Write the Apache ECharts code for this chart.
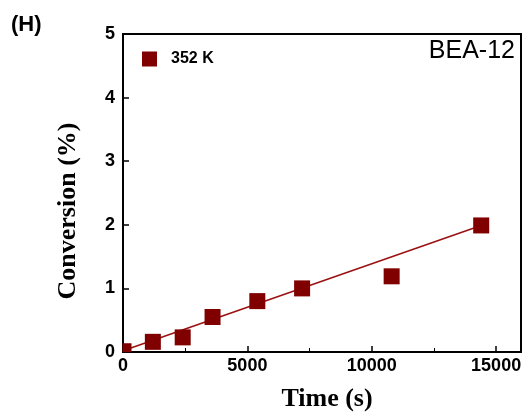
<!DOCTYPE html>
<html><head><meta charset="utf-8">
<script src="https://cdn.jsdelivr.net/npm/echarts@6/dist/echarts.min.js"></script>
<style>html,body{margin:0;padding:0;background:#fff}#c{width:526px;height:417px}</style>
</head><body><div id="c"></div>
<script>
const timeS = [0, 1200, 2400, 3600, 5400, 7200, 10800, 14400];
const conversion = [0.02, 0.16, 0.23, 0.55, 0.80, 1.00, 1.19, 1.99];
const fitX = [0, 14400];
const fitY = [0.02, 1.99];
const xTicks = [0, 5000, 10000, 15000];
const yTicks = [0, 1, 2, 3, 4, 5];

const chart = echarts.init(document.getElementById('c'));
const axisLine = {show: true, lineStyle: {color: '#000', width: 2}};
chart.setOption({
  animation: false,
  grid: {left: 123, top: 34, right: 5, bottom: 63, show: true, borderColor: '#000', borderWidth: 2, backgroundColor: 'transparent'},
  title: [
    {text: '(H)', left: 6, top: 9, textStyle: {fontFamily: 'Liberation Sans', fontWeight: 'bold', fontSize: 22, color: '#000'}},
    {text: 'BEA-12', right: 6, top: 34, textStyle: {fontFamily: 'Liberation Sans', fontWeight: 'normal', fontSize: 25, color: '#000'}}
  ],
  legend: {show: true, left: 137, top: 46, itemWidth: 15, itemHeight: 15, itemGap: 10,
    data: [{name: '352 K', icon: 'rect'}],
    textStyle: {fontFamily: 'Liberation Sans', fontWeight: 'bold', fontSize: 16, color: '#000', padding: [0,0,0,9]}},
  xAxis: {
    type: 'value', min: 0, max: 16000, interval: 5000,
    name: 'Time (s)', nameLocation: 'middle', nameGap: 34,
    nameTextStyle: {fontFamily: 'Liberation Serif', fontWeight: 'bold', fontSize: 26, color: '#000', padding: [0, 0, 0, 10]},
    axisLine: axisLine,
    axisTick: {show: true, inside: true, length: 6, lineStyle: {color: '#000', width: 1.5}},
    minorTick: {show: true, splitNumber: 2, length: 4, lineStyle: {color: '#000', width: 1}},
    axisLabel: {fontFamily: 'Liberation Sans', fontWeight: 'bold', fontSize: 18, color: '#000', margin: 5,
      formatter: v => xTicks.includes(v) ? String(v) : ''},
    splitLine: {show: false}
  },
  yAxis: {
    type: 'value', min: 0, max: 5, interval: 1,
    name: 'Conversion (%)', nameLocation: 'middle', nameGap: 42,
    nameTextStyle: {fontFamily: 'Liberation Serif', fontWeight: 'bold', fontSize: 26, color: '#000', padding: [0, 36, 0, 0]},
    axisLine: axisLine,
    axisTick: {show: true, inside: true, length: 6, lineStyle: {color: '#000', width: 1.5}},
    axisLabel: {fontFamily: 'Liberation Sans', fontWeight: 'bold', fontSize: 18, color: '#000', margin: 8,
      formatter: v => yTicks.includes(v) ? String(v) : ''},
    splitLine: {show: false}
  },
  series: [{
    name: 'fit', type: 'line', data: fitX.map((x, i) => [x, fitY[i]]),
    showSymbol: false, symbol: 'none', lineStyle: {color: '#9a1010', width: 1.5}, z: 1
  }, {
    name: '352 K', type: 'scatter',
    data: timeS.map((x, i) => i === 0
      ? {value: [x, conversion[i]], symbolSize: 9, symbolOffset: [4, -3]}
      : [x, conversion[i]]),
    symbol: 'rect', symbolSize: 16, itemStyle: {color: '#800000', opacity: 1}, z: 3
  }]
});
</script></body></html>
